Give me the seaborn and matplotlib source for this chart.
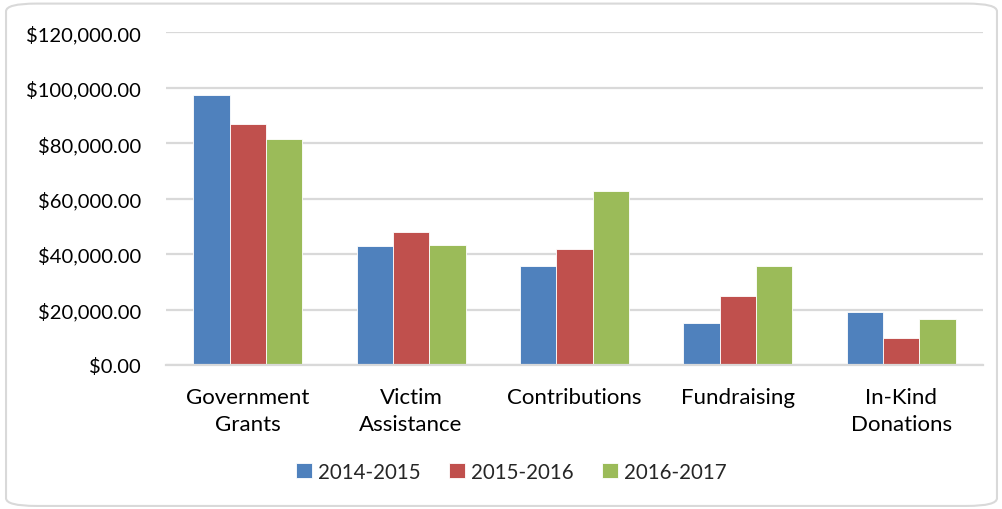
import matplotlib
matplotlib.use("Agg")
import matplotlib.pyplot as plt
from matplotlib.patches import FancyBboxPatch
from matplotlib.ticker import FuncFormatter
import pandas as pd
import seaborn as sns

# data
categories = ["Government\nGrants", "Victim\nAssistance", "Contributions", "Fundraising", "In-Kind\nDonations"]
years = ["2014-2015", "2015-2016", "2016-2017"]
fy_2014 = [97300, 43000, 35600, 15300, 19000]
fy_2015 = [87000, 48000, 41900, 24900, 9900]
fy_2016 = [81400, 43300, 62700, 35600, 16600]
colors = ["#4F81BD", "#C0504D", "#9BBB59"]

rows = []
for yr, vals in zip(years, [fy_2014, fy_2015, fy_2016]):
    for cat, v in zip(categories, vals):
        rows.append({"category": cat, "year": yr, "amount": v})
df = pd.DataFrame(rows)

sns.set_style("white")
plt.rcParams["font.family"] = ["Lato", "DejaVu Sans"]

fig = plt.figure(figsize=(10.03, 5.10), dpi=100)
ax = fig.add_axes([0.1655, 0.2824, 0.8145, 0.6526])

sns.barplot(data=df, x="category", y="amount", hue="year", palette=colors,
            saturation=1, width=0.667, gap=0, edgecolor="#FFFFFF", linewidth=0.6, ax=ax)

ax.set_ylim(0, 120000)
ax.set_yticks(range(0, 120001, 20000))
ax.yaxis.set_major_formatter(FuncFormatter(lambda v, p: f"${v:,.2f}"))
ax.grid(axis="y", color="#D9D9D9", linewidth=1.6)
ax.set_axisbelow(True)
for s in ["top", "right", "left"]:
    ax.spines[s].set_visible(False)
ax.spines["bottom"].set_color("#D9D9D9")
ax.spines["bottom"].set_linewidth(1.6)
ax.tick_params(axis="y", length=0, labelsize=14.5, colors="#000000", pad=18)
ax.tick_params(axis="x", length=0, labelsize=16, colors="#000000", pad=16)
for lbl in ax.get_xticklabels():
    lbl.set_linespacing(1.45)
ax.set_xlabel("")
ax.set_ylabel("")
ax.set_xlim(-0.5, 4.5)

ax.legend(loc="center", ncol=3, frameon=False, fontsize=14.8, handlelength=0.75,
          handleheight=0.75, handletextpad=0.3, columnspacing=1.4)
leg = ax.get_legend()
leg.set_bbox_to_anchor((0.51, 1 - 473 / 510), transform=fig.transFigure)

border = FancyBboxPatch((0.006, 0.006), 0.988, 0.985, boxstyle="round,pad=0,rounding_size=0.03",
                        transform=fig.transFigure, facecolor="none", edgecolor="#D9D9D9",
                        linewidth=1.5, mutation_aspect=510 / 1003)
fig.patches.append(border)

fig.savefig("out.png", dpi=100)
